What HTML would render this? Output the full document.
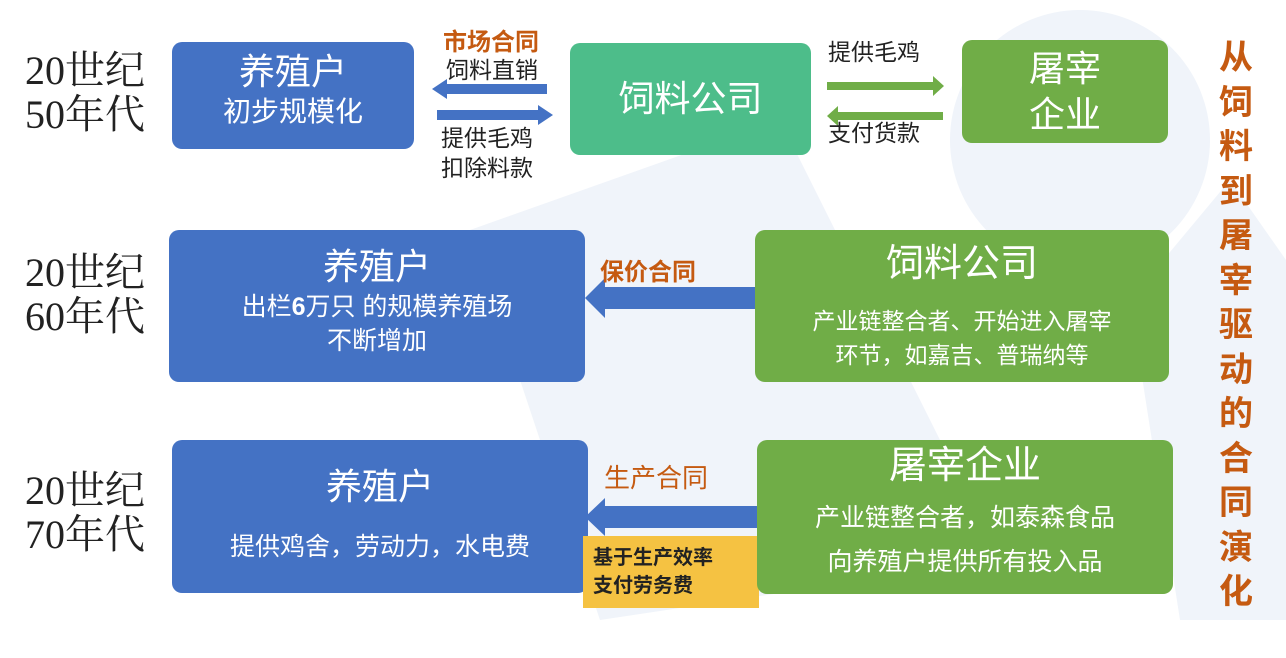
<!DOCTYPE html>
<html><head><meta charset="utf-8"><style>
body{margin:0;width:1286px;height:658px;background:#fff;position:relative;overflow:hidden;font-family:"Liberation Sans","Noto Sans CJK SC",sans-serif;}
.a{position:absolute;}
.box{position:absolute;border-radius:10px;color:#fff;text-align:center;box-sizing:border-box;}
.blue{background:#4472c4;}
.green{background:#70ad47;}
.teal{background:#4dbd8a;}
.yr{font-family:"Liberation Serif","Noto Serif CJK SC",serif;font-size:40px;line-height:44px;color:#222;}
.lab{font-size:23px;color:#222;line-height:30px;}
.red{color:#c55a11;font-weight:bold;}
</style></head><body>
<svg class="a" style="left:0;top:0" width="1286" height="658">
<polygon points="470,230 780,120 1000,560 600,620" fill="#f0f4fa"/>
<circle cx="1080" cy="140" r="130" fill="#f0f4fa"/>
<polygon points="1130,300 1230,180 1286,260 1286,620 1180,620" fill="#f0f4fa"/>
<polygon points="547,84 447,84 447,79 432,89 447,99 447,94 547,94" fill="#4472c4"/>
<polygon points="437,110 538,110 538,105 553,115 538,125 538,120 437,120" fill="#4472c4"/>
<polygon points="827,82 933,82 933,76 944,86 933,96 933,90 827,90" fill="#70ad47"/>
<polygon points="943,112 838,112 838,106 827,116 838,126 838,120 943,120" fill="#70ad47"/>
<polygon points="755,287 605,287 605,278 585,298 605,318 605,309 755,309" fill="#4472c4"/>
<polygon points="757,506 605,506 605,498 585,517 605,536 605,528 757,528" fill="#4472c4"/>
</svg>

<div class="a yr" style="left:25px;top:49px">20世纪<br>50年代</div>
<div class="a yr" style="left:25px;top:251px">20世纪<br>60年代</div>
<div class="a yr" style="left:25px;top:469px">20世纪<br>70年代</div>

<div class="box blue" style="left:172px;top:42px;width:242px;height:107px;padding-top:8px"><div style="font-size:36px;line-height:44px">养殖户</div><div style="font-size:28px;line-height:36px">初步规模化</div></div>
<div class="a red" style="left:443px;top:22px;font-size:24px">市场合同</div>
<div class="a lab" style="left:446px;top:55px">饲料直销</div>
<div class="a lab" style="left:441px;top:123px">提供毛鸡<br>扣除料款</div>
<div class="box teal" style="left:570px;top:43px;width:241px;height:112px;font-size:36px;line-height:112px">饲料公司</div>
<div class="a lab" style="left:828px;top:37px">提供毛鸡</div>
<div class="a lab" style="left:828px;top:118px">支付货款</div>
<div class="box green" style="left:962px;top:40px;width:206px;height:103px;font-size:36px;line-height:46px;padding-top:6px">屠宰<br>企业</div>

<div class="box blue" style="left:169px;top:230px;width:416px;height:152px;padding-top:14px"><div style="font-size:36px;line-height:46px">养殖户</div><div style="font-size:25px;line-height:34px">出栏<b>6</b>万只 的规模养殖场<br>不断增加</div></div>
<div class="a red" style="left:600px;top:252px;font-size:24px">保价合同</div>
<div class="box green" style="left:755px;top:230px;width:414px;height:152px;padding-top:8px"><div style="font-size:38px;line-height:52px">饲料公司</div><div style="font-size:23px;line-height:34px;margin-top:14px">产业链整合者、开始进入屠宰<br>环节，如嘉吉、普瑞纳等</div></div>

<div class="box blue" style="left:172px;top:440px;width:416px;height:153px;padding-top:24px"><div style="font-size:36px;line-height:46px">养殖户</div><div style="font-size:25px;line-height:34px;margin-top:20px">提供鸡舍，劳动力，水电费</div></div>
<div class="a red" style="left:604px;top:458px;font-size:26px;font-weight:normal">生产合同</div>
<div class="a" style="left:583px;top:536px;width:176px;height:72px;background:#f5c242;font-size:20px;font-weight:bold;line-height:28px;padding:8px 0 0 10px;box-sizing:border-box;color:#222">基于生产效率<br>支付劳务费</div>
<div class="box green" style="left:757px;top:440px;width:416px;height:154px;padding-top:2px"><div style="font-size:38px;line-height:48px">屠宰企业</div><div style="font-size:25px;line-height:44px;margin-top:6px">产业链整合者，如泰森食品<br>向养殖户提供所有投入品</div></div>

<div class="a red" style="left:1216px;top:36px;width:40px;font-size:34px;line-height:44.5px;text-align:center">从饲料到屠宰驱动的合同演化</div>
</body></html>
